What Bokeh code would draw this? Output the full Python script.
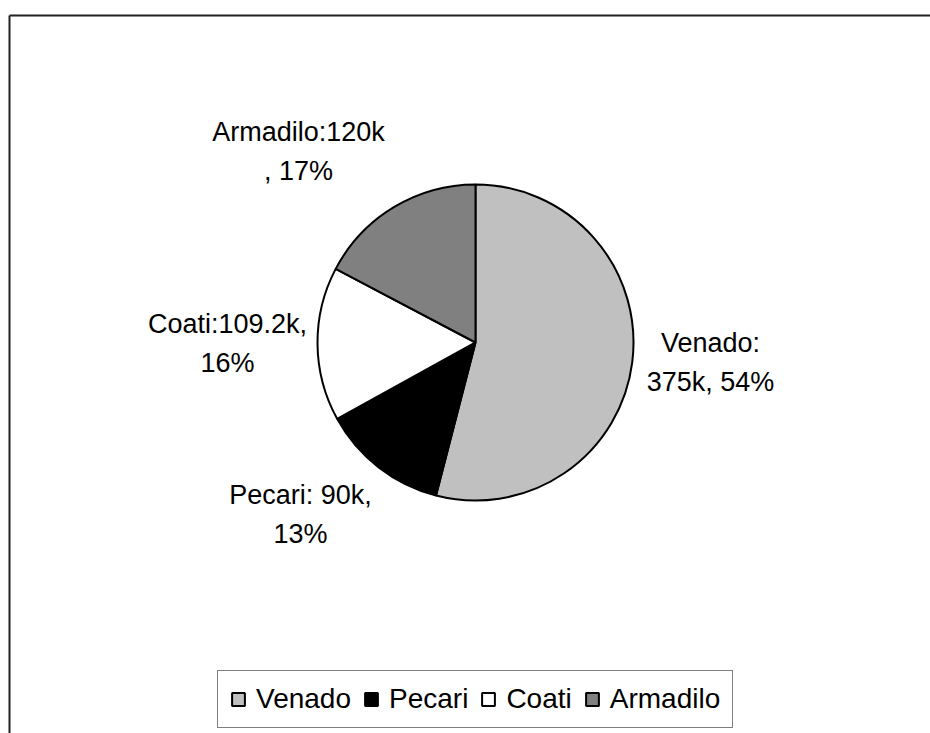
import numpy as np
from bokeh.plotting import figure
from bokeh.models import ColumnDataSource, Range1d, Legend, LegendItem
from bokeh.core.properties import value
from bokeh.embed import file_html
from bokeh.resources import INLINE

# ---- data ----
names = ["Venado", "Pecari", "Coati", "Armadilo"]
values = [375, 90, 109.2, 120]
label_texts = ["Venado:\n375k, 54%", "Pecari: 90k,\n13%", "Coati:109.2k,\n16%", "Armadilo:120k\n, 17%"]
colors = ["#C0C0C0", "#000000", "#FFFFFF", "#808080"]

# ---- layout constants (pixel-like data space) ----
W, H = 930, 733
cx, cy, R = 475, 391, 158
label_x = [710, 300, 227, 298]
label_y = [371, 219, 390, 582]
FONT = "Liberation Sans"

vals = np.array(values, dtype=float)
frac = vals / vals.sum()
cum = np.concatenate([[0], np.cumsum(frac)])
start = np.pi / 2 - 2 * np.pi * cum[:-1]
end = np.pi / 2 - 2 * np.pi * cum[1:]

src = ColumnDataSource(dict(name=names, value=values, start=start, end=end, color=colors,
                            x=[cx] * len(names), y=[cy] * len(names)))

p = figure(width=W, height=H, output_backend="svg", toolbar_location=None,
           x_axis_type=None, y_axis_type=None, min_border=0,
           x_range=Range1d(0, W), y_range=Range1d(0, H))
p.outline_line_color = None
p.grid.visible = False
p.background_fill_color = "white"
p.border_fill_color = "white"

# chart frame (left and top edges visible in the crop)
p.segment(x0=[9, 9], y0=[718, 718], x1=[W, 9], y1=[718, 0], line_color="#222222", line_width=2)

r = p.wedge(x="x", y="y", radius=R, start_angle="start", end_angle="end", direction="clock",
            fill_color="color", line_color="black", line_width=2, source=src)

lsrc = ColumnDataSource(dict(x=label_x, y=label_y, text=label_texts))
p.text(x="x", y="y", text="text", source=lsrc, text_font=value(FONT), text_font_size="27px",
       text_align="center", text_baseline="middle", text_line_height=1.33, text_color="black")

legend = Legend(items=[LegendItem(label=names[i], renderers=[r], index=i) for i in range(len(names))],
                orientation="horizontal", location=(217, 5), margin=0, padding=12,
                glyph_width=16, glyph_height=16, label_standoff=10, spacing=12,
                label_text_font=FONT, label_text_font_size="28px", label_text_color="black",
                border_line_color="black", border_line_width=1, background_fill_alpha=1)
p.add_layout(legend, "center")

open("out.html", "w").write(file_html(p, INLINE))
